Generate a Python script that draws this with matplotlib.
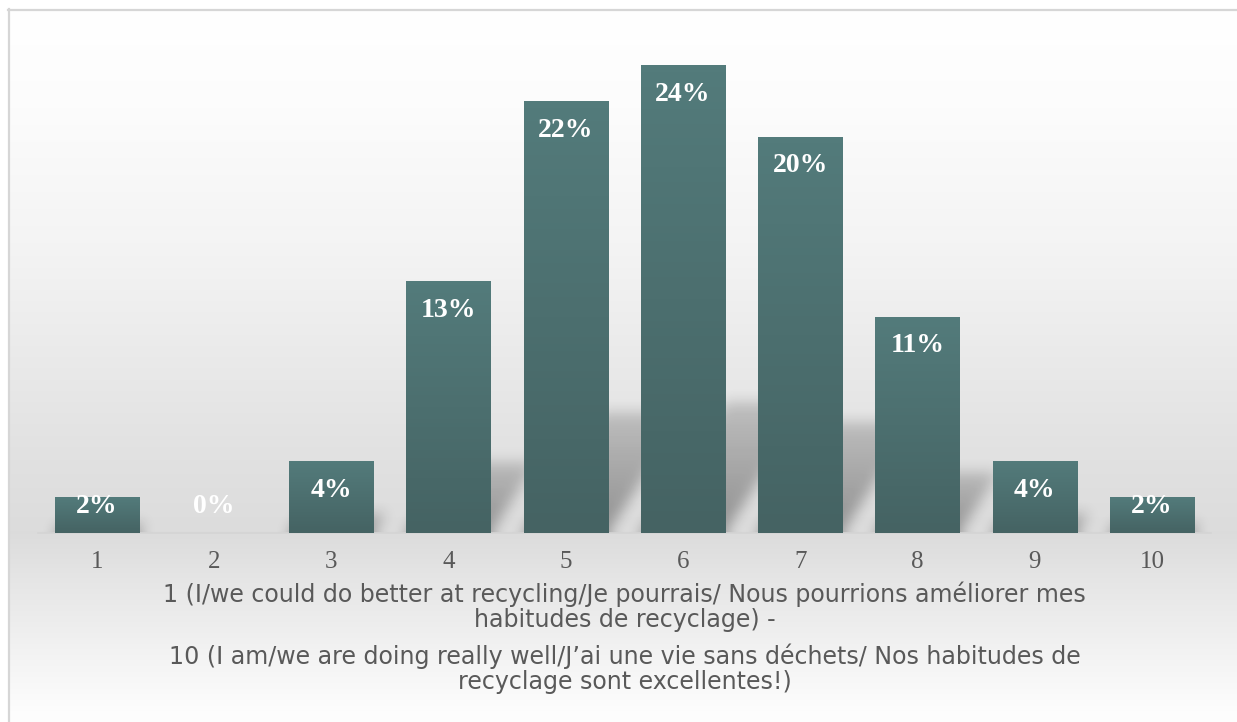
import numpy as np
import matplotlib
matplotlib.use("Agg")
import matplotlib.pyplot as plt
from matplotlib.colors import LinearSegmentedColormap
from matplotlib.lines import Line2D

# survey scale 1..10, share of answers in %
scores = [1, 2, 3, 4, 5, 6, 7, 8, 9, 10]
shares = [1.8, 0.0, 3.6, 12.7, 21.8, 23.6, 20.0, 10.9, 3.6, 1.8]
xlabel_lines = [
    "1 (I/we could do better at recycling/Je pourrais/ Nous pourrions améliorer mes",
    "habitudes de recyclage) -",
    "10 (I am/we are doing really well/J\u2019ai une vie sans déchets/ Nos habitudes de",
    "recyclage sont excellentes!)",
]

W, H = 1237, 722
BAR_W = 0.72
YMAX = 25


def box_blur(a, r, axis):
    pad = [(0, 0), (0, 0)]
    pad[axis] = (r + 1, r)
    c = np.cumsum(np.pad(a, pad, mode="edge"), axis=axis)
    if axis == 0:
        return (c[2 * r + 1:] - c[:-2 * r - 1]) / (2 * r + 1)
    return (c[:, 2 * r + 1:] - c[:, :-2 * r - 1]) / (2 * r + 1)


def main():
    fig = plt.figure(figsize=(W / 100, H / 100), dpi=100, facecolor="white")

    # chart area gradient (white -> grey at baseline -> white)
    bg = fig.add_axes([8 / W, 0, 1 - 8 / W, 1 - 9 / H], zorder=0)
    rows = np.arange(9, H)
    stops_y = [9, 100, 250, 450, 533, 580, 650, 715]
    stops_v = [1.0, 0.99, 0.955, 0.885, 0.862, 0.90, 0.95, 0.995]
    col = np.interp(rows, stops_y, stops_v)
    img = np.repeat(col[:, None, None], 3, axis=2)
    bg.imshow(img, aspect="auto", extent=(0, 1, 0, 1))
    bg.set_axis_off()

    fig.add_artist(Line2D([8.5 / W, 8.5 / W], [0, 1 - 9 / H], color="#d6d6d6", lw=1.6))
    fig.add_artist(Line2D([8 / W, 1], [1 - 9.5 / H, 1 - 9.5 / H], color="#d6d6d6", lw=1.6))

    left = (97 - 58.6) / W
    right = (1152 + 58.6) / W
    bottom = (H - 533) / H
    top = (H - (533 - YMAX * 19.79)) / H
    ax = fig.add_axes([left, bottom, right - left, top - bottom], zorder=1)
    ax.patch.set_alpha(0)

    # soft perspective shadows behind the bars
    nx, ny = 1172, 495
    gx = np.linspace(0.5, 10.5, nx)
    gy = np.linspace(0, YMAX, ny)
    X, Y = np.meshgrid(gx, gy)
    mask = np.zeros_like(X)
    px_x, px_y = 117.2, 19.79
    for c, v in zip(scores, shares):
        if v <= 0:
            continue
        sh = 0.28 * v
        dx = 0.65 * sh * px_y / px_x
        t = Y / sh
        off = dx * t
        inside = (Y <= sh) & (X >= c - BAR_W / 2 + off) & (X <= c + BAR_W / 2 + off)
        mask = np.maximum(mask, inside * (1 - 0.5 * np.clip(t, 0, 1)))
    for _ in range(3):
        mask = box_blur(mask, 6, 0)
        mask = box_blur(mask, 6, 1)
    rgba = np.zeros((ny, nx, 4))
    rgba[..., 3] = 0.34 * mask
    ax.imshow(rgba, extent=(0.5, 10.5, 0, YMAX), origin="lower", aspect="auto",
              zorder=1, interpolation="bilinear")

    bars = ax.bar(scores, shares, width=BAR_W, color="#4c6f6f", zorder=2)
    cmap = LinearSegmentedColormap.from_list("bar", ["#456363", "#537b7b"])
    grad = np.linspace(0, 1, 64)[:, None]
    for p in bars:
        if p.get_height() <= 0:
            continue
        x0, w, h = p.get_x(), p.get_width(), p.get_height()
        ax.imshow(grad, cmap=cmap, extent=(x0, x0 + w, 0, h), origin="lower",
                  aspect="auto", zorder=3)

    for c, v in zip(scores, shares):
        ax.text(c, max(v - 1.45, 1.33), f"{round(v)}%", ha="center", va="center",
                color="white", fontsize=20, fontweight="bold",
                family="Liberation Serif", zorder=5)

    ax.set_xlim(0.5, 10.5)
    ax.set_ylim(0, YMAX)
    ax.set_xticks(scores)
    ax.set_xticklabels([str(s) for s in scores], family="Liberation Serif",
                       fontsize=18, color="#595959")
    ax.tick_params(axis="x", length=0, pad=13)
    ax.set_yticks([])
    for s in ["left", "right", "top"]:
        ax.spines[s].set_visible(False)
    ax.spines["bottom"].set_color("#d4d4d4")
    ax.spines["bottom"].set_linewidth(1.2)

    # axis title, sized so the first line is as wide as in the original
    cx = (left + right) / 2
    renderer = fig.canvas.get_renderer()
    probe = fig.text(0, 0, xlabel_lines[0], fontsize=16, family="DejaVu Sans")
    wpx = probe.get_window_extent(renderer).width
    probe.remove()
    fs = 16 * 927 / wpx
    for line, yp in zip(xlabel_lines, [594, 620, 656, 682]):
        fig.text(cx, 1 - yp / H, line, ha="center", va="center", fontsize=fs,
                 family="DejaVu Sans", color="#595959")

    fig.savefig("out.png", dpi=100)


if __name__ == "__main__":
    main()
